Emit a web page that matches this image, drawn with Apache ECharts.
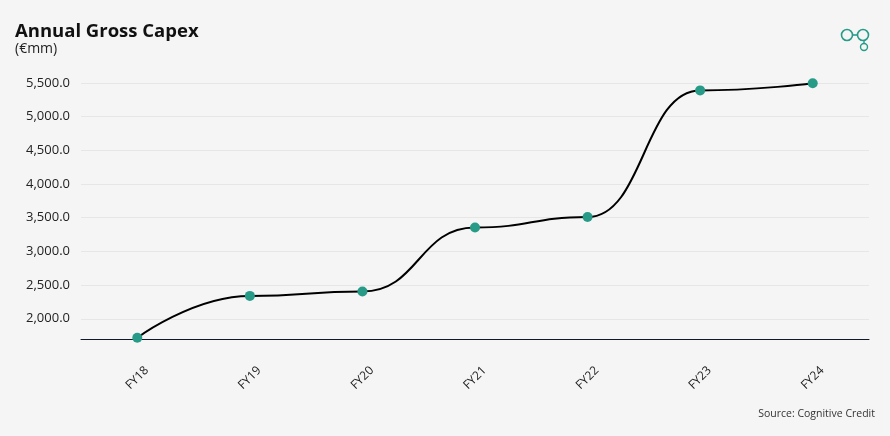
<!DOCTYPE html>
<html>
<head>
<meta charset="utf-8">
<script src="https://cdn.jsdelivr.net/npm/echarts@6/dist/echarts.min.js"></script>
<style>
  html, body { margin: 0; padding: 0; background: #f5f5f5; }
  #chart { width: 890px; height: 436px; }
</style>
</head>
<body>
<div id="chart"></div>
<script>
// values
const years = ["FY18", "FY19", "FY20", "FY21", "FY22", "FY23", "FY24"];
const capex = [1718, 2340, 2405, 3355, 3510, 5390, 5495];
const gridTicks = [2000, 2500, 3000, 3500, 4000, 4500, 5000, 5500];

const teal = "#279b88";
const font = "'Open Sans', 'Noto Sans', sans-serif";

const chart = echarts.init(document.getElementById("chart"));

const option = {
  backgroundColor: "#f5f5f5",
  textStyle: { fontFamily: font },
  title: [
    {
      text: "Annual Gross Capex",
      left: 10,
      top: 17,
      textStyle: { fontSize: 18.5, fontWeight: "bold", color: "#111", fontFamily: font }
    },
    {
      text: "(€mm)",
      left: 10,
      top: 37,
      textStyle: { fontSize: 14, fontWeight: "normal", color: "#222", fontFamily: font }
    },
    {
      text: "Source: Cognitive Credit",
      right: 10,
      top: 404,
      textStyle: { fontSize: 10.5, fontWeight: "normal", color: "#333", fontFamily: font }
    }
  ],
  grid: { left: 81, right: 21, top: 83, bottom: 97 },
  xAxis: {
    type: "category",
    data: years,
    boundaryGap: true,
    axisLine: { lineStyle: { color: "#111827", width: 1 } },
    axisTick: { show: false },
    axisLabel: {
      rotate: 45,
      align: "center",
      verticalAlign: "middle",
      color: "#222",
      fontSize: 12,
      margin: 39,
      fontFamily: font
    }
  },
  yAxis: {
    type: "value",
    min: 1700,
    max: 5500,
    interval: 100,
    axisLine: { show: false },
    axisTick: { show: false },
    axisLabel: {
      color: "#222",
      fontSize: 13,
      margin: 11,
      fontFamily: font,
      showMinLabel: false,
      formatter: function (v) {
        if (gridTicks.indexOf(v) < 0) return "";
        return v.toLocaleString("en-US", { minimumFractionDigits: 1, maximumFractionDigits: 1 });
      }
    },
    splitLine: { show: false }
  },
  series: [
    {
      type: "line",
      data: capex,
      smooth: 0.5,
      smoothMonotone: "x",
      symbol: "circle",
      symbolSize: 10,
      lineStyle: { color: "#000", width: 2 },
      itemStyle: { color: teal, borderWidth: 0 },
      z: 5,
      markLine: {
        silent: true,
        symbol: "none",
        label: { show: false },
        lineStyle: { color: "#e6e6e6", width: 1, type: "solid" },
        emphasis: { disabled: true },
        animation: false,
        z: 1,
        data: gridTicks.map(function (t) { return { yAxis: t }; })
      }
    }
  ],
  graphic: [
    { type: "circle", shape: { cx: 847, cy: 35, r: 5.5 }, style: { fill: "none", stroke: teal, lineWidth: 1.6 } },
    { type: "circle", shape: { cx: 863, cy: 35, r: 5.5 }, style: { fill: "none", stroke: teal, lineWidth: 1.6 } },
    { type: "line", shape: { x1: 852.5, y1: 35, x2: 857.5, y2: 35 }, style: { stroke: teal, lineWidth: 1.6 } },
    { type: "circle", shape: { cx: 864, cy: 47, r: 3.5 }, style: { fill: "none", stroke: teal, lineWidth: 1.4 } },
    { type: "line", shape: { x1: 864, y1: 40.5, x2: 864, y2: 43.5 }, style: { stroke: teal, lineWidth: 1.4 } }
  ]
};

chart.setOption(option);
</script>
</body>
</html>
